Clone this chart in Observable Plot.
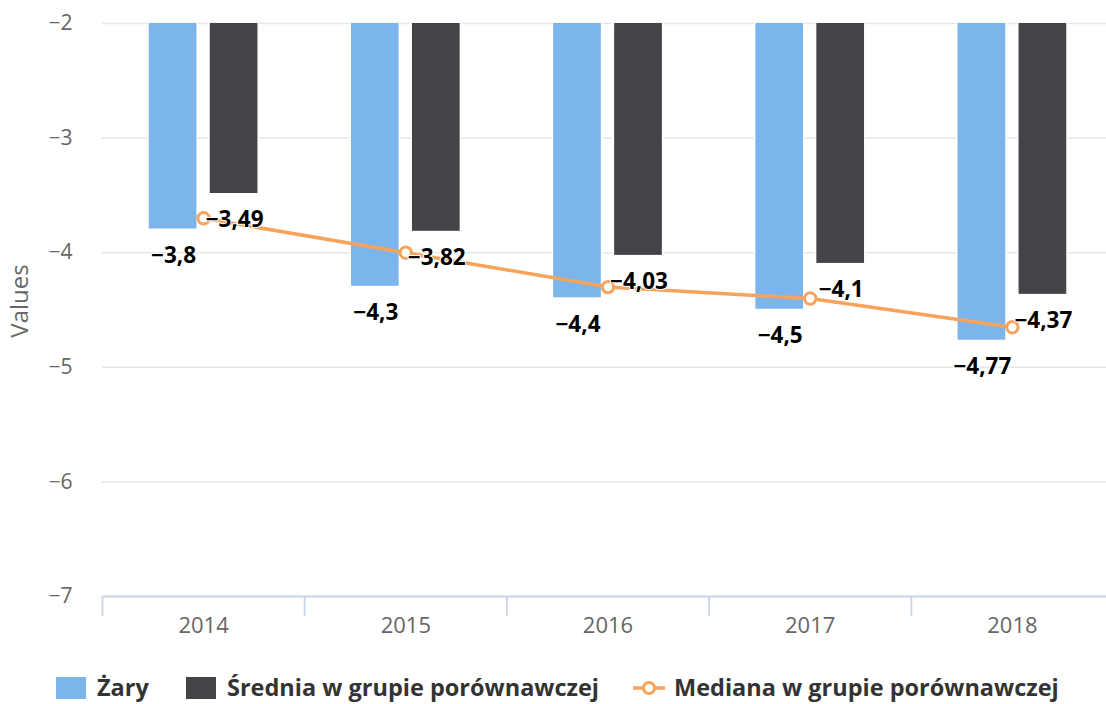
<!DOCTYPE html>
<html>
<head>
<meta charset="utf-8">
<script src="https://cdn.jsdelivr.net/npm/d3@7"></script>
<script src="https://cdn.jsdelivr.net/npm/@observablehq/plot@0.6"></script>
<style>
  html, body { margin: 0; padding: 0; background: #fff; overflow: hidden; }
  #wrap { position: relative; width: 1106px; height: 704px; font-family: "Open Sans", sans-serif; overflow: hidden; }
  #wrap > svg { position: absolute; left: 0; top: 0; }
  .leg-text { position: absolute; font-weight: bold; font-size: 23.5px; line-height: 23px; color: #333; white-space: nowrap; }
  .leg-sym { position: absolute; }
</style>
</head>
<body>
<div id="wrap"></div>
<script>
// ---- data ----
const years = [2014, 2015, 2016, 2017, 2018];
const zary = [-3.8, -4.3, -4.4, -4.5, -4.77];
const srednia = [-3.49, -3.82, -4.03, -4.1, -4.37];
const mediana = [-3.7, -4.0, -4.3, -4.4, -4.65];
const seriesNames = ["Żary", "Średnia w grupie porównawczej", "Mediana w grupie porównawczej"];
const seriesColors = ["#7cb5ec", "#434348", "#f7a35c"];
const yTicks = [-2, -3, -4, -5, -6, -7];
const yearBounds = [2013.5, 2014.5, 2015.5, 2016.5, 2017.5, 2018.5];
const yLabel = "Values";

// ---- build ----
const zaryData = years.map((year, i) => ({year, value: zary[i]}));
const sredniaData = years.map((year, i) => ({year, value: srednia[i]}));
const medianaData = years.map((year, i) => ({year, value: mediana[i]}));
const fmt = v => (v < 0 ? "\u2212" : "") + String(Math.abs(v)).replace(".", ",");

const FONT = "Open Sans, sans-serif";
const labelStyle = {fontSize: 22.5, fontWeight: "bold", fill: "#000", stroke: "white", strokeWidth: 2, fontFamily: FONT};

const chart = Plot.plot({
  width: 1106,
  height: 660,
  marginLeft: 102,
  marginRight: -7,
  marginTop: 23,
  marginBottom: 64,
  style: {fontFamily: FONT, background: "transparent", overflow: "visible"},
  x: {type: "linear", domain: [2013.5, 2018.5]},
  y: {domain: [-7, -2]},
  marks: [
    Plot.gridY(yTicks, {stroke: "#e6e6e6", strokeOpacity: 1, strokeWidth: 1.5}),
    Plot.axisY(yTicks, {tickSize: 0, tickPadding: 30, fontSize: 21, fill: "#666", tickFormat: fmt, label: null}),
    Plot.text([yLabel], {text: d => d, frameAnchor: "left", textAnchor: "middle", rotate: -90, dx: -82, dy: -9, fontSize: 24, fill: "#666"}),
    Plot.rectY(zaryData, {
      x1: d => d.year - 0.5, x2: d => d.year + 0.5, y1: 0, y2: "value",
      fill: seriesColors[0], stroke: "white", strokeWidth: 1.5,
      insetLeft: 46, insetRight: 107, clip: true
    }),
    Plot.rectY(sredniaData, {
      x1: d => d.year - 0.5, x2: d => d.year + 0.5, y1: 0, y2: "value",
      fill: seriesColors[1], stroke: "white", strokeWidth: 1.5,
      insetLeft: 107, insetRight: 46, clip: true
    }),
    Plot.ruleY([-7], {stroke: "#ccd6eb", strokeWidth: 2}),
    Plot.axisX(yearBounds, {tickSize: 20, stroke: "#ccd6eb", strokeWidth: 2, tickFormat: () => "", label: null}),
    Plot.axisX(years, {tickSize: 0, tickPadding: 21, fontSize: 22, fill: "#666", tickFormat: d => String(d), label: null}),
    Plot.line(medianaData, {x: "year", y: "value", stroke: seriesColors[2], strokeWidth: 3.5}),
    Plot.dot(medianaData, {x: "year", y: "value", r: 5.7, fill: "white", stroke: seriesColors[2], strokeWidth: 3}),
    Plot.text(zaryData, {x: "year", y: "value", text: d => fmt(d.value), dx: -30, dy: 26, ...labelStyle}),
    Plot.text(sredniaData, {x: "year", y: "value", text: d => fmt(d.value), dx: 31, dy: 26, ...labelStyle})
  ]
});

const wrap = document.getElementById("wrap");
wrap.appendChild(chart);

// ---- legend (HTML, below the SVG) ----
const legendLefts = [56, 186, 633];
const legendTextOffsets = [41, 41, 41];
const symTop = 677;
seriesNames.forEach((name, i) => {
  const left = legendLefts[i];
  if (i < 2) {
    const sym = document.createElement("div");
    sym.className = "leg-sym";
    Object.assign(sym.style, {left: left + "px", top: symTop + "px", width: "30px", height: "22px", background: seriesColors[i]});
    wrap.appendChild(sym);
  } else {
    const ns = "http://www.w3.org/2000/svg";
    const s = document.createElementNS(ns, "svg");
    s.setAttribute("width", 34); s.setAttribute("height", 20);
    s.style.left = left + "px"; s.style.top = (symTop + 1) + "px"; s.style.position = "absolute";
    const ln = document.createElementNS(ns, "line");
    ln.setAttribute("x1", 0); ln.setAttribute("x2", 32); ln.setAttribute("y1", 10); ln.setAttribute("y2", 10);
    ln.setAttribute("stroke", seriesColors[i]); ln.setAttribute("stroke-width", 3.5);
    const c = document.createElementNS(ns, "circle");
    c.setAttribute("cx", 16); c.setAttribute("cy", 10); c.setAttribute("r", 5.5);
    c.setAttribute("fill", "white"); c.setAttribute("stroke", seriesColors[i]); c.setAttribute("stroke-width", 3);
    s.appendChild(ln); s.appendChild(c);
    wrap.appendChild(s);
  }
  const t = document.createElement("div");
  t.className = "leg-text";
  t.textContent = name;
  t.style.left = (left + legendTextOffsets[i]) + "px";
  t.style.top = "676px";
  wrap.appendChild(t);
});
</script>
</body>
</html>
